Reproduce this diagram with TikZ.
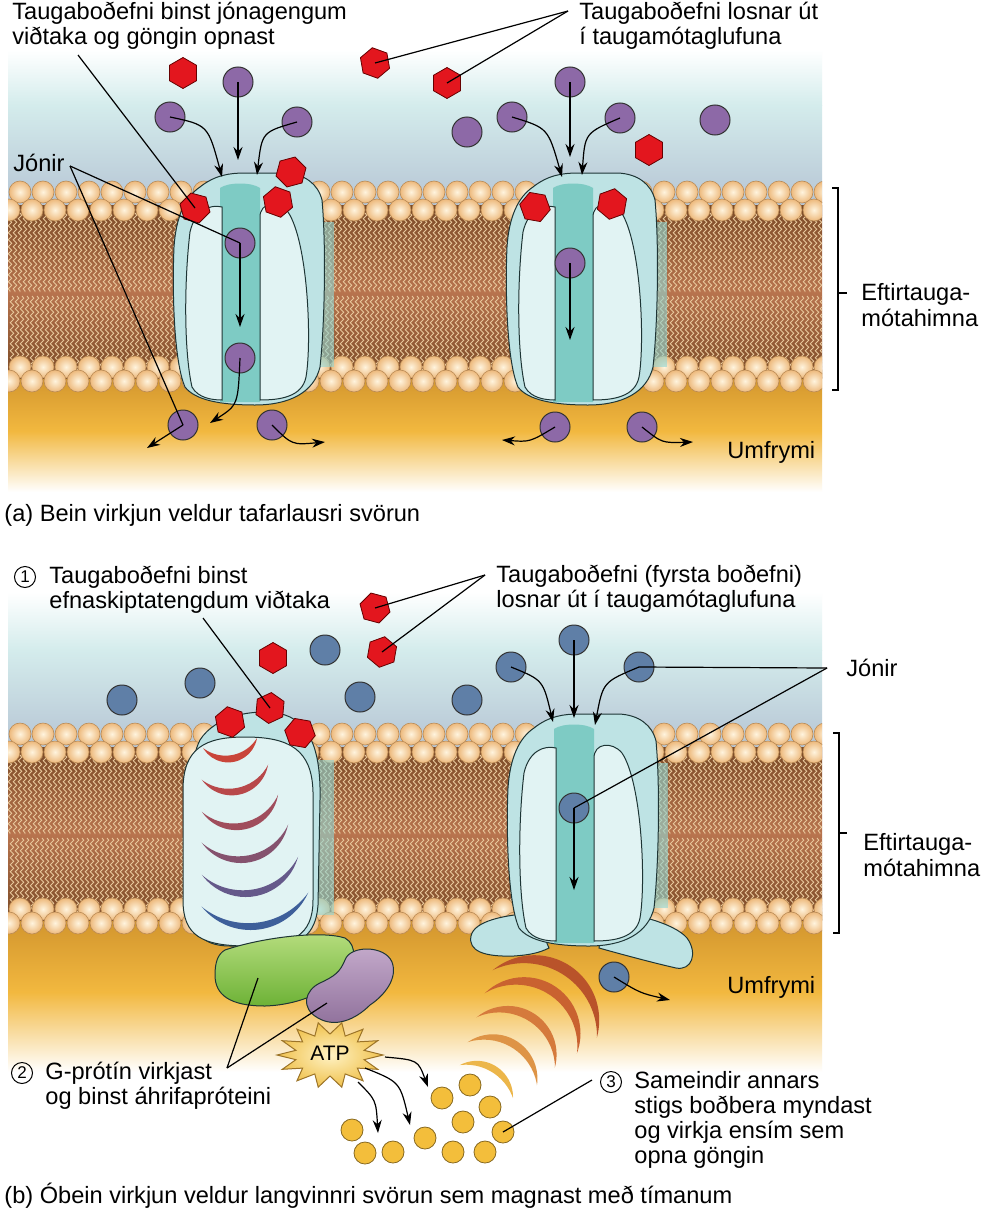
\documentclass[tikz,border=0pt]{standalone}
\usepackage{fontspec}
\setmainfont{Liberation Sans}
\usetikzlibrary{arrows.meta,shapes.geometric,decorations.pathmorphing}

\definecolor{skymid}{HTML}{D4ECEC}
\definecolor{skylow}{HTML}{B3C1D2}
\definecolor{cytotop}{HTML}{CF922C}
\definecolor{cytomid}{HTML}{F2B83F}
\definecolor{tailbrown}{HTML}{7A4A26}
\definecolor{tailmid}{HTML}{B8744E}
\definecolor{tailline}{HTML}{E8C89C}
\definecolor{headin}{HTML}{FFF4DE}
\definecolor{headout}{HTML}{EDB97C}
\definecolor{headedge}{HTML}{B98A55}
\definecolor{chanbody}{HTML}{BEE3E4}
\definecolor{chanpore}{HTML}{7ECBC4}
\definecolor{chansub}{HTML}{E1F3F3}
\definecolor{chanedge}{HTML}{1E3535}
\definecolor{changlow}{HTML}{8FD6D4}
\definecolor{ionpurple}{HTML}{8D69A7}
\definecolor{ionblue}{HTML}{5F7FA7}
\definecolor{transred}{HTML}{E3161E}
\definecolor{msgyellow}{HTML}{F3BE3B}
\definecolor{rarc1}{HTML}{C9453A}
\definecolor{rarc2}{HTML}{B8484A}
\definecolor{rarc3}{HTML}{A04D5C}
\definecolor{rarc4}{HTML}{85526E}
\definecolor{rarc5}{HTML}{65598A}
\definecolor{rarc6}{HTML}{3E5F9A}
\definecolor{wave1}{HTML}{B9532A}
\definecolor{wave2}{HTML}{C96230}
\definecolor{wave3}{HTML}{D57A3C}
\definecolor{wave4}{HTML}{DE9446}
\definecolor{wave5}{HTML}{ECB64A}
\definecolor{gptop}{HTML}{B8DE80}
\definecolor{gpbot}{HTML}{6DB236}
\definecolor{efftop}{HTML}{C4AACB}
\definecolor{effbot}{HTML}{8E6F9A}
\definecolor{atpin}{HTML}{FFF2C4}
\definecolor{atpout}{HTML}{F0C24E}
\definecolor{atpedge}{HTML}{9C7428}

\newcommand{\labelfont}{\fontsize{11.8}{12.6}\selectfont}

% crescent through end L, middle P and end R, thickness #7, colour #8
\newcommand{\crescent}[8]{%
  \edef\cresD{\fpeval{2*((#1)*((#4)-(#6))+(#3)*((#6)-(#2))+(#5)*((#2)-(#4)))}}%
  \edef\cresH{\fpeval{round((((#1)^2+(#2)^2)*((#4)-(#6))+((#3)^2+(#4)^2)*((#6)-(#2))+((#5)^2+(#6)^2)*((#2)-(#4)))/(\cresD),3)}}%
  \edef\cresK{\fpeval{round((((#1)^2+(#2)^2)*((#5)-(#3))+((#3)^2+(#4)^2)*((#1)-(#5))+((#5)^2+(#6)^2)*((#3)-(#1)))/(\cresD),3)}}%
  \edef\cresR{\fpeval{round(sqrt(((#1)-(\cresH))^2+((#2)-(\cresK))^2),3)}}%
  \edef\cresMx{\fpeval{((#1)+(#5))/2-(\cresH)}}%
  \edef\cresMy{\fpeval{((#2)+(#6))/2-(\cresK)}}%
  \edef\cresDist{\fpeval{sqrt((\cresMx)^2+(\cresMy)^2)}}%
  \edef\cresS{\fpeval{(#7)*(2*(\cresR)-(#7))/(2*((\cresR)-(\cresDist)-(#7)))}}%
  \edef\cresCx{\fpeval{round((\cresH)-(\cresS)*(\cresMx)/(\cresDist),3)}}%
  \edef\cresCy{\fpeval{round((\cresK)-(\cresS)*(\cresMy)/(\cresDist),3)}}%
  \edef\cresRR{\fpeval{round((\cresR)+(\cresS)-(#7),3)}}%
  \begin{scope}
    \clip (\cresH,\cresK) circle[radius=\cresR];
    \fill[#8, even odd rule] (\cresCx,\cresCy) circle[radius=\cresRR]
      (\cresH-400,\cresK-400) rectangle (\cresH+400,\cresK+400);
  \end{scope}}

\begin{document}
\begin{tikzpicture}[x=0.5pt, y=-0.5pt,
    lipidhead/.style={circle, inner sep=0pt, minimum size=11pt, draw=headedge,
                      line width=0.3pt, inner color=headin, outer color=headout},
    lipidtail/.style={tailline, line width=0.45pt, decorate,
                      decoration={snake, amplitude=0.9pt, segment length=3.5pt}},
    aion/.style={circle, inner sep=0pt, minimum size=15pt, fill=ionpurple,
                 draw=black!80, line width=0.5pt},
    bion/.style={aion, fill=ionblue},
    transmitter/.style={regular polygon, regular polygon sides=6, inner sep=0pt,
                        minimum size=15.5pt, fill=transred, draw=black!60!red,
                        line width=0.4pt, shape border rotate=30},
    messenger/.style={circle, inner sep=0pt, minimum size=11pt, fill=msgyellow,
                      draw=black!45!msgyellow, line width=0.4pt},
    flow/.style={-{Stealth[length=6.5pt,width=4.5pt]}, line width=0.6pt},
    leader/.style={line width=0.6pt},
    txt/.style={font=\labelfont, align=left, inner sep=0pt, anchor=west},
    stepnum/.style={circle, draw, line width=0.5pt, inner sep=0pt,
                    minimum size=10.5pt, font=\fontsize{8.5}{9}\selectfont},
    chanline/.style={draw=chanedge, line width=0.5pt},
    pics/ligandgate/.style={code={
      \fill[changlow, opacity=0.6] (74,30) rectangle (94,175);
      \filldraw[chanline, fill=chanbody] (-40,-5) .. controls (-25,-17) and (-10,-19) .. (5,-19)
        -- (45,-19) .. controls (65,-18) and (78,-8) .. (82,8)
        .. controls (86,50) and (85,130) .. (80,175)
        .. controls (74,200) and (50,213) .. (15,213)
        .. controls (-20,213) and (-45,208) .. (-55,195)
        .. controls (-66,170) and (-68,100) .. (-66,55)
        .. controls (-64,25) and (-55,5) .. (-40,-5) -- cycle;
      \fill[chanpore] (-20,-4) .. controls (-12,-10) and (12,-10) .. (20,-4)
        -- (20,210) -- (-20,210) -- cycle;
      \filldraw[chanline, fill=chansub] (-18,15) .. controls (-30,12) and (-45,18) .. (-50,40)
        .. controls (-56,90) and (-56,160) .. (-48,195)
        .. controls (-42,206) and (-28,208) .. (-18,208) -- cycle;
      \filldraw[chanline, fill=chansub] (20,25) .. controls (20,10) and (38,8) .. (48,20)
        .. controls (68,50) and (72,150) .. (66,185)
        .. controls (62,205) and (40,208) .. (20,208) -- cycle;
    }},
    pics/secondgate/.style={code={
      \filldraw[chanline, fill=chanbody] (-40,180) .. controls (-70,182) and (-100,188) .. (-103,203)
        .. controls (-106,218) and (-90,224) .. (-60,223)
        .. controls (-45,222) and (-35,220) .. (-25,215) -- cycle;
      \filldraw[chanline, fill=chanbody] (30,178) .. controls (60,180) and (100,190) .. (113,205)
        .. controls (124,220) and (118,238) .. (102,235)
        .. controls (80,230) and (50,222) .. (25,215) -- cycle;
      \pic {ligandgate};
    }}]

  \useasboundingbox (0,0) rectangle (985,1210);
  \fill[white] (0,0) rectangle (985,1210);

  % synaptic cleft and cytoplasm
  \shade[top color=white, bottom color=skymid] (8,50) rectangle (822,105);
  \shade[top color=skymid, bottom color=skylow] (8,105) rectangle (822,215);
  \shade[top color=cytotop, bottom color=white, middle color=cytomid] (8,370) rectangle (822,492);
  \shade[top color=white, bottom color=skymid] (8,592) rectangle (822,650);
  \shade[top color=skymid, bottom color=skylow] (8,650) rectangle (822,757);
  \shade[top color=cytotop, bottom color=white, middle color=cytomid] (8,912) rectangle (822,1072);

  % bilayers
  \foreach \dy in {0,542} {
    \begin{scope}[shift={(0,\dy)}]
      \clip (8,170) rectangle (822,400);
      \shade[top color=tailbrown, bottom color=tailbrown, middle color=tailmid] (8,205) rectangle (822,378);
      \foreach \x in {10,15,...,820} {
        \draw[lipidtail] (\x,213) -- (\x,292);
        \draw[lipidtail] (\x+2,296) -- (\x+2,374);
      }
      \foreach \x in {20,43,...,835} \node[lipidhead] at (\x,192) {};
      \foreach \x in {9,32,...,835} \node[lipidhead] at (\x,210) {};
      \foreach \x in {20,43,...,835} \node[lipidhead] at (\x,367) {};
      \foreach \x in {9,32,...,835} \node[lipidhead] at (\x,381) {};
    \end{scope}
  }

  % channels
  \pic at (240,192) {ligandgate};
  \pic at (573,192) {ligandgate};
  \pic at (574,733) {secondgate};

  % metabotropic receptor
  \fill[changlow, opacity=0.6] (314,760) rectangle (334,915);
  \filldraw[chanline, fill=chanbody] (200,740) .. controls (215,716) and (255,707) .. (285,715)
    .. controls (312,724) and (321,755) .. (320,800) -- (318,905)
    .. controls (316,935) and (300,946) .. (270,946) -- (230,946)
    .. controls (200,946) and (190,930) .. (190,900) -- (192,780)
    .. controls (193,760) and (195,750) .. (200,740) -- cycle;
  \filldraw[chanline, fill=chansub] (183,790) .. controls (183,748) and (205,737) .. (245,737)
    .. controls (290,737) and (312,750) .. (313,792) -- (313,900)
    .. controls (313,936) and (292,946) .. (248,946)
    .. controls (202,946) and (183,936) .. (183,900) -- cycle;
  \foreach \lx/\ly/\px/\py/\rx/\ry/\cc in {203/748/233/762/257/738/rarc1,
      202/780/237/795/268/765/rarc2, 202/812/240/830/278/795/rarc3,
      202/843/243/863/288/825/rarc4, 202/875/247/897/298/857/rarc5,
      202/907/250/930/308/893/rarc6}
    \crescent{\lx}{\ly}{\px}{\py}{\rx}{\ry}{7}{\cc};

  % G protein and effector
  \shadedraw[chanline, top color=gptop, bottom color=gpbot] (225,950)
    .. controls (260,938) and (320,930) .. (345,938)
    .. controls (358,945) and (355,965) .. (345,975)
    .. controls (330,990) and (300,1005) .. (265,1006)
    .. controls (230,1006) and (215,995) .. (215,975)
    .. controls (215,962) and (218,954) .. (225,950) -- cycle;
  \shadedraw[chanline, top color=efftop, bottom color=effbot] (345,960)
    .. controls (350,945) and (385,945) .. (392,962)
    .. controls (398,978) and (385,995) .. (370,1005)
    .. controls (355,1020) and (335,1028) .. (318,1018)
    .. controls (300,1008) and (305,990) .. (320,983)
    .. controls (335,976) and (340,972) .. (345,960) -- cycle;
  \coordinate (gprot) at (258,978);
  \coordinate (effector) at (327,1003);

  % ATP
  \shadedraw[draw=atpedge, line width=0.5pt, inner color=atpin, outer color=atpout] (383,1055)
    \foreach \k in {0,...,13} {
      -- ({330+35*cos((2*\k+1)*360/28)},{1055+21*sin((2*\k+1)*360/28)})
      -- ({330+53*cos((2*\k+2)*360/28)},{1055+33*sin((2*\k+2)*360/28)}) } -- cycle;
  \node[font=\fontsize{10.5}{11}\selectfont, inner sep=0pt] (atp) at (330,1053) {ATP};

  % second-messenger waves
  \foreach \lx/\ly/\px/\py/\rx/\ry/\tt/\cc in {493/970/573/968/597/1037/11/wave1,
      485/993/560/990/577/1053/10/wave2, 477/1017/540/1018/555/1067/9/wave3,
      468/1042/522/1045/537/1085/8/wave4, 460/1065/503/1072/513/1098/7/wave5}
    \crescent{\lx}{\ly}{\px}{\py}{\rx}{\ry}{\tt}{\cc};

  % second messengers
  \node[messenger] (yc1) at (352,1130) {};
  \node[messenger] (yc2) at (365,1153) {};
  \node[messenger] (yc3) at (393,1152) {};
  \node[messenger] (yc4) at (425,1138) {};
  \node[messenger] (yc5) at (442,1098) {};
  \node[messenger] (yc6) at (470,1085) {};
  \node[messenger] (yc7) at (490,1107) {};
  \node[messenger] (yc8) at (463,1122) {};
  \node[messenger] (yc9) at (503,1132) {};
  \node[messenger] (yc10) at (453,1152) {};
  \node[messenger] (yc11) at (485,1152) {};

  % neurotransmitters (a)
  \node[transmitter] (ha1) at (183,73) {};
  \node[transmitter, rotate=10] (ha2) at (375,63) {};
  \node[transmitter] (ha3) at (447,83) {};
  \node[transmitter] (ha4) at (649,150) {};
  \node[transmitter, rotate=15] (ha5) at (195,208) {};
  \node[transmitter, rotate=-15] (ha6) at (291,172) {};
  \node[transmitter, rotate=10] (ha7) at (278,202) {};
  \node[transmitter, rotate=20] (ha8) at (535,207) {};
  \node[transmitter, rotate=-10] (ha9) at (612,204) {};

  % neurotransmitters (b)
  \node[transmitter, rotate=15] (hb1) at (375,608) {};
  \node[transmitter, rotate=-10] (hb2) at (382,652) {};
  \node[transmitter] (hb3) at (273,658) {};
  \node[transmitter, rotate=10] (hb4) at (230,722) {};
  \node[transmitter, rotate=-5] (hb5) at (270,708) {};
  \node[transmitter, rotate=20] (hb6) at (300,733) {};

  % ions (a)
  \node[aion] (pa1) at (170,117) {};
  \node[aion] (pa2) at (238,82) {};
  \node[aion] (pa3) at (297,122) {};
  \node[aion] (pa4) at (240,243) {};
  \node[aion] (pa5) at (240,358) {};
  \node[aion] (pa6) at (183,425) {};
  \node[aion] (pa7) at (272,425) {};
  \node[aion] (pa8) at (467,132) {};
  \node[aion] (pa9) at (512,117) {};
  \node[aion] (pa10) at (570,82) {};
  \node[aion] (pa11) at (620,118) {};
  \node[aion] (pa12) at (715,120) {};
  \node[aion] (pa13) at (570,263) {};
  \node[aion] (pa14) at (555,427) {};
  \node[aion] (pa15) at (642,427) {};

  % ions (b)
  \node[bion] (pb1) at (122,700) {};
  \node[bion] (pb2) at (200,683) {};
  \node[bion] (pb3) at (325,650) {};
  \node[bion] (pb4) at (360,697) {};
  \node[bion] (pb5) at (467,700) {};
  \node[bion] (pb6) at (511,667) {};
  \node[bion] (pb7) at (574,640) {};
  \node[bion] (pb8) at (639,667) {};
  \node[bion] (pb9) at (574,808) {};
  \node[bion] (pb10) at (614,977) {};

  % ion movement
  \coordinate (pa1e) at (222,177);  \coordinate (pa2e) at (238,160);
  \coordinate (pa3e) at (257,175);  \coordinate (pa4e) at (240,327);
  \coordinate (pa5e) at (210,423);  \coordinate (pa6e) at (147,448);
  \coordinate (pa7e) at (325,442);  \coordinate (pa9e) at (562,177);
  \coordinate (pa10e) at (570,157); \coordinate (pa11e) at (582,175);
  \coordinate (pa13e) at (570,340); \coordinate (pa14e) at (502,440);
  \coordinate (pa15e) at (693,442);
  \draw[flow] (pa1.center) .. controls (208,125) .. (pa1e);
  \draw[flow] (pa2.center) -- (pa2e);
  \draw[flow] (pa3.center) .. controls (262,132) .. (pa3e);
  \draw[flow] (pa4.center) -- (pa4e);
  \draw[flow] (pa5.center) .. controls (238,405) .. (pa5e);
  \draw[flow] (pa6.center) -- (pa6e);
  \draw[flow] (pa7.center) .. controls (292,445) .. (pa7e);
  \draw[flow] (pa9.center) .. controls (548,128) .. (pa9e);
  \draw[flow] (pa10.center) -- (pa10e);
  \draw[flow] (pa11.center) .. controls (585,133) .. (pa11e);
  \draw[flow] (pa13.center) -- (pa13e);
  \draw[flow] (pa14.center) .. controls (530,442) .. (pa14e);
  \draw[flow] (pa15.center) .. controls (662,443) .. (pa15e);

  \coordinate (pb6e) at (553,722);  \coordinate (pb7e) at (574,718);
  \coordinate (pb8e) at (595,725);  \coordinate (pb9e) at (574,890);
  \coordinate (pb10e) at (670,1000);
  \draw[flow] (pb6.center) .. controls (543,680) .. (pb6e);
  \draw[flow] (pb7.center) -- (pb7e);
  \draw[flow] (pb8.center) .. controls (603,682) .. (pb8e);
  \draw[flow] (pb9.center) -- (pb9e);
  \draw[flow] (pb10.center) .. controls (640,993) .. (pb10e);

  \coordinate (atp1) at (385,1057); \coordinate (atp1e) at (428,1087);
  \coordinate (atp2) at (365,1068); \coordinate (atp2e) at (410,1125);
  \coordinate (atp3) at (358,1082); \coordinate (atp3e) at (378,1133);
  \draw[flow] (atp1) .. controls (418,1060) .. (atp1e);
  \draw[flow] (atp2) .. controls (400,1082) .. (atp2e);
  \draw[flow] (atp3) .. controls (376,1100) .. (atp3e);

  % brackets
  \draw[leader] (832,188) -- (838,188) -- (838,390) -- (832,390);
  \draw[leader] (838,293) -- (847,293);
  \draw[leader] (833,733) -- (839,733) -- (839,933) -- (833,933);
  \draw[leader] (839,833) -- (847,833);

  % labels (a)
  \node[txt] (bindA) at (12,25.5) {Taugaboðefni binst jónagengum\\viðtaka og göngin opnast};
  \node[txt] (releaseA) at (579,25.5) {Taugaboðefni losnar út\\í taugamótaglufuna};
  \node[txt] (ionsA) at (13,163) {Jónir};
  \node[txt] (membA) at (861,305) {Eftirtauga-\\mótahimna};
  \node[txt] (cytoA) at (727,452) {Umfrymi};
  \node[txt] (capA) at (4,515) {(a) Bein virkjun veldur tafarlausri svörun};

  \coordinate (bindAtip) at (78,55);
  \coordinate (releaseAtip) at (568,11);
  \coordinate (ionsAtip) at (70,166);
  \draw[leader] (bindAtip) -- (ha5.center);
  \draw[leader] (releaseAtip) -- (ha2.center);
  \draw[leader] (releaseAtip) -- (ha3.center);
  \draw[leader] (ionsAtip) -- (pa4.center);
  \draw[leader] (ionsAtip) -- (pa6.center);

  % labels (b)
  \node[stepnum] (one) at (25,577) {1};
  \node[txt] (bindB) at (49,589.5) {Taugaboðefni binst\\efnaskiptatengdum viðtaka};
  \node[txt] (releaseB) at (496,588.5) {Taugaboðefni (fyrsta boðefni)\\losnar út í taugamótaglufuna};
  \node[txt] (ionsB) at (846,668) {Jónir};
  \node[txt] (membB) at (863,855) {Eftirtauga-\\mótahimna};
  \node[txt] (cytoB) at (727,987) {Umfrymi};
  \node[stepnum] (two) at (22,1073) {2};
  \node[txt] (gprotB) at (45,1085.5) {G-prótín virkjast\\og binst áhrifapróteini};
  \node[stepnum] (three) at (611,1082) {3};
  \node[txt] (secondB) at (634,1120) {Sameindir annars\\stigs boðbera myndast\\og virkja ensím sem\\opna göngin};
  \node[txt] (capB) at (4,1196) {(b) Óbein virkjun veldur langvinnri svörun sem magnast með tímanum};

  \coordinate (bindBtip) at (203,618);
  \coordinate (releaseBtip) at (485,575);
  \coordinate (ionsBtip) at (827,668);
  \coordinate (gprotBtip) at (227,1068);
  \coordinate (secondBtip) at (592,1080);
  \draw[leader] (bindBtip) -- (hb5.center);
  \draw[leader] (releaseBtip) -- (hb1.center);
  \draw[leader] (releaseBtip) -- (hb2.center);
  \draw[leader] (ionsBtip) -- (pb8.center);
  \draw[leader] (ionsBtip) -- (pb9.center);
  \draw[leader] (gprotBtip) -- (gprot);
  \draw[leader] (gprotBtip) -- (effector);
  \draw[leader] (secondBtip) -- (yc9.center);
\end{tikzpicture}
\end{document}
